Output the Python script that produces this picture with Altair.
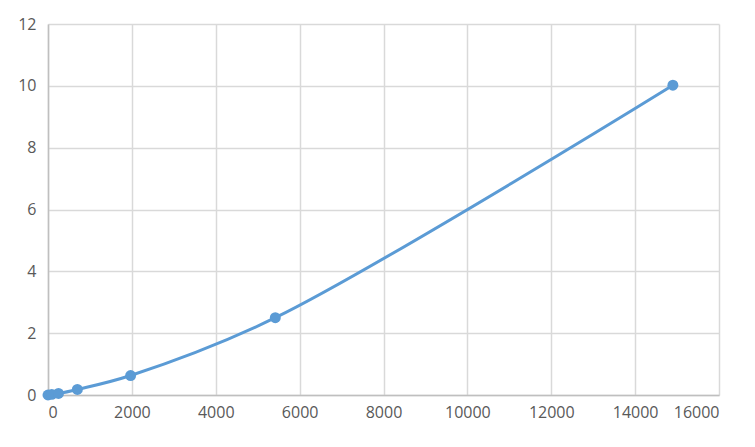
import altair as alt
import pandas as pd

conc = [0, 90, 250, 700, 1970, 5420, 14900]
od = [0.0, 0.02, 0.05, 0.18, 0.63, 2.5, 10.02]

df = pd.DataFrame({"x": conc, "y": od})

color = "#5b9bd5"
x = alt.X("x:Q", scale=alt.Scale(domain=[0, 16000], nice=False),
          axis=alt.Axis(values=[0, 2000, 4000, 6000, 8000, 10000, 12000, 14000, 16000],
                        title=None, format="d", labelPadding=9))
y = alt.Y("y:Q", scale=alt.Scale(domain=[0, 12], nice=False),
          axis=alt.Axis(values=[0, 2, 4, 6, 8, 10, 12], title=None, labelPadding=12))

line = alt.Chart(df).mark_line(color=color, strokeWidth=3, interpolate="catmull-rom").encode(x=x, y=y)
pts = alt.Chart(df).mark_circle(color=color, size=120, opacity=1).encode(x=x, y=y)

chart = (line + pts).properties(
    width=671, height=371,
    autosize=alt.AutoSizeParams(type="none"),
    padding={"left": 40, "top": 16, "right": 20, "bottom": 30},
    background="white",
).configure_view(stroke=None).configure_axis(
    grid=True, gridColor="#d9d9d9", gridWidth=1.5,
    domainColor="#bfbfbf", domainWidth=1.5, ticks=False,
    labelFont="Open Sans", labelFontSize=16, labelColor="#595959",
)

chart.save("out.html", embed_options={"renderer": "svg", "actions": False})
